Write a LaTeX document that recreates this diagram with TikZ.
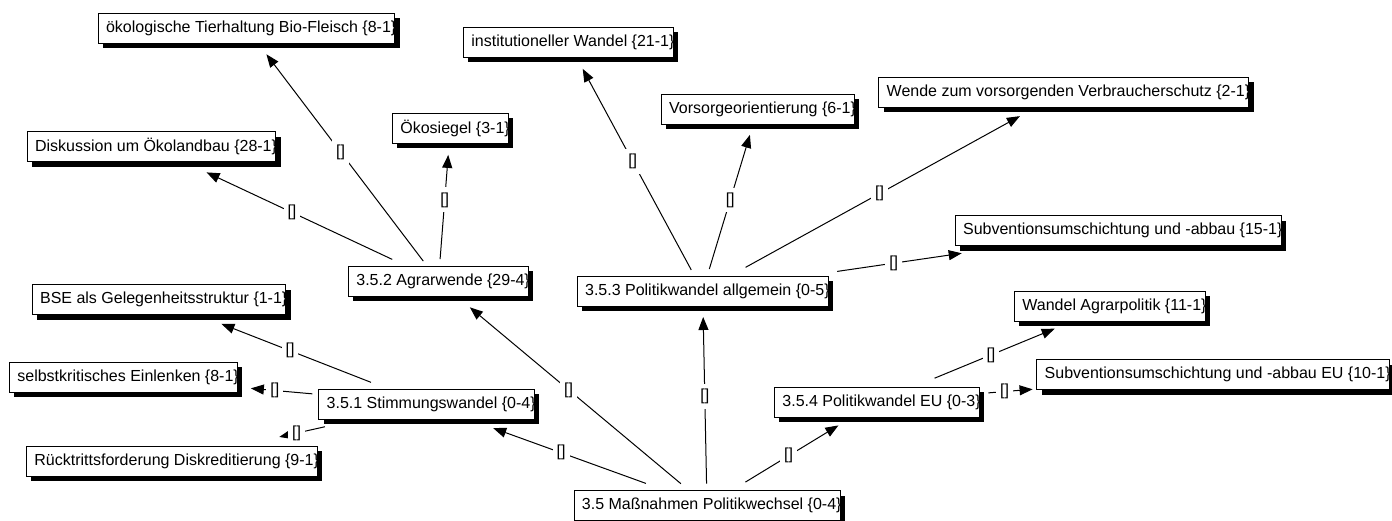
\documentclass[tikz,border=0pt]{standalone}
\usepackage{fontspec}
\setmainfont{Liberation Sans}
\usetikzlibrary{arrows.meta,shadows}

\begin{document}
\begin{tikzpicture}[x=1pt,y=-1pt,
    codebox/.style={draw, line width=0.8pt, fill=white, anchor=west,
      font=\fontsize{16}{19}\selectfont, inner xsep=8pt, inner ysep=0pt,
      minimum height=30pt, execute at end node={\hspace{-9.5pt}},
      drop shadow={shadow xshift=5pt, shadow yshift=-5pt, fill=black, opacity=1}},
    link/.style={-{Triangle[length=13pt,width=10pt]}, line width=1pt},
    rellbl/.style={fill=white, font=\fontsize{16}{19}\selectfont,
      inner xsep=4pt, inner ysep=5pt}]
    \useasboundingbox (0,0) rectangle (1392,520);
    % Hauptcode
    \node[codebox] (mass) at (573.5,505.5) {3.5 Maßnahmen Politikwechsel \{0-4\}};
    % Untercodes
    \node[codebox] (stimm) at (318.3,404) {3.5.1 Stimmungswandel \{0-4\}};
    \node[codebox] (agrar) at (348,281) {3.5.2 Agrarwende \{29-4\}};
    \node[codebox] (polall) at (576.7,291) {3.5.3 Politikwandel allgemein \{0-5\}};
    \node[codebox] (eu) at (774,402) {3.5.4 Politikwandel EU \{0-3\}};
    % Blaetter 3.5.1
    \node[codebox] (bse) at (31.7,299.5) {BSE als Gelegenheitsstruktur \{1-1\}};
    \node[codebox] (selbst) at (9,377) {selbstkritisches Einlenken \{8-1\}};
    \node[codebox] (rueck) at (26,461) {Rücktrittsforderung Diskreditierung \{9-1\}};
    % Blaetter 3.5.2
    \node[codebox] (tier) at (97.7,28) {ökologische Tierhaltung Bio-Fleisch \{8-1\}};
    \node[codebox] (disk) at (26.7,146.5) {Diskussion um Ökolandbau \{28-1\}};
    \node[codebox] (siegel) at (392,128) {Ökosiegel \{3-1\}};
    % Blaetter 3.5.3
    \node[codebox] (inst) at (463,42) {institutioneller Wandel \{21-1\}};
    \node[codebox] (vors) at (660.7,109) {Vorsorgeorientierung \{6-1\}};
    \node[codebox] (wende) at (878.3,92) {Wende zum vorsorgenden Verbraucherschutz \{2-1\}};
    \node[codebox] (subv) at (954.7,230.5) {Subventionsumschichtung und -abbau \{15-1\}};
    % Blaetter 3.5.4
    \node[codebox] (wap) at (1014,306) {Wandel Agrarpolitik \{11-1\}};
    \node[codebox] (subveu) at (1036.3,374.5) {Subventionsumschichtung und -abbau EU \{10-1\}};
    % Relationen
    \draw[link, shorten <=34pt, shorten >=41pt] (mass.center) -- node[rellbl, pos=.515] (r1) {[]} (agrar.center);
    \draw[link, shorten <=22pt, shorten >=26pt] (mass.center) -- node[rellbl, pos=.51] (r2) {[]} (polall.center);
    \draw[link, shorten <=65pt, shorten >=71pt] (mass.center) -- node[rellbl, pos=.52] (r3) {[]} (stimm.center);
    \draw[link, shorten <=45pt, shorten >=45pt] (mass.center) -- node[rellbl, pos=.48] (r4) {[]} (eu.center);
    \draw[link, shorten <=59.5pt, shorten >=67pt] (stimm.center) -- node[rellbl, pos=.51] (r5) {[]} (bse.center);
    \draw[link, shorten <=114.5pt, shorten >=128pt] (stimm.center) -- node[rellbl, pos=.50] (r6) {[]} (selbst.center);
    \draw[link, shorten <=104pt, shorten >=110pt] (stimm.center) -- node[rellbl, pos=.51] (r7) {[]} (rueck.center);
    \draw[link, shorten <=25pt, shorten >=33pt] (agrar.center) -- node[rellbl, pos=.51] (r8) {[]} (tier.center);
    \draw[link, shorten <=51pt, shorten >=61pt] (agrar.center) -- node[rellbl, pos=.51] (r9) {[]} (disk.center);
    \draw[link, shorten <=22pt, shorten >=27pt] (agrar.center) -- node[rellbl, pos=.53] (r10) {[]} (siegel.center);
    \draw[link, shorten <=24pt, shorten >=30.5pt] (polall.center) -- node[rellbl, pos=.52] (r11) {[]} (inst.center);
    \draw[link, shorten <=23pt, shorten >=27pt] (polall.center) -- node[rellbl, pos=.50] (r12) {[]} (vors.center);
    \draw[link, shorten <=49pt, shorten >=50pt] (polall.center) -- node[rellbl, pos=.49] (r13) {[]} (wende.center);
    \draw[link, shorten <=136pt, shorten >=158pt] (polall.center) -- node[rellbl, pos=.46] (r14) {[]} (subv.center);
    \draw[link, shorten <=62.5pt, shorten >=59.5pt] (eu.center) -- node[rellbl, pos=.49] (r15) {[]} (wap.center);
    \draw[link, shorten <=112pt, shorten >=181pt] (eu.center) -- node[rellbl, pos=.38] (r16) {[]} (subveu.center);
\end{tikzpicture}
\end{document}
